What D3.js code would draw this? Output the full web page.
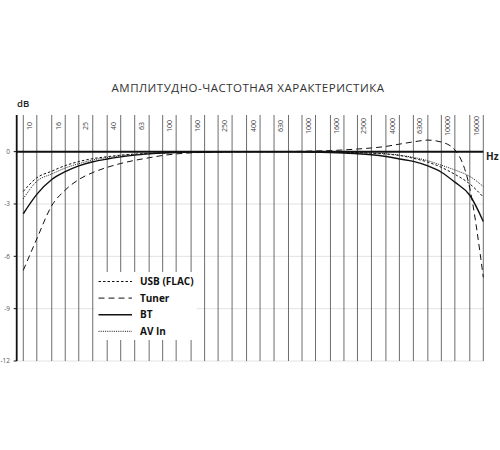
<!DOCTYPE html>
<html>
    <head>
        <meta charset="utf-8">
        <title>АЧХ</title>
        <style>
            body { margin: 0; background: #fff; }
            text { font-family: "Open Sans", sans-serif; }
        </style>
    </head>
    <body>
        <script src="https://cdnjs.cloudflare.com/ajax/libs/d3/7.8.5/d3.min.js" charset="utf-8"></script>
        <script>

        // 1/3-octave frequencies (Hz), one vertical grid line each
        var freqs = [10, 12.5, 16, 20, 25, 31.5, 40, 50, 63, 80, 100, 125, 160, 200, 250, 315, 400, 500,
                     630, 800, 1000, 1250, 1600, 2000, 2500, 3150, 4000, 5000, 6300, 8000, 10000, 12500, 16000, 20000];
        var labelFreqs = [10, 16, 25, 40, 63, 100, 160, 250, 400, 630, 1000, 1600, 2500, 4000, 6300, 10000, 16000];
        var dbTicks = [0, -3, -6, -9, -12];

        // levels in dB
        var usb = [-2.28, -1.5, -1.12, -0.8, -0.57, -0.4, -0.29, -0.2, -0.14, -0.1, -0.07, -0.05, -0.03, -0.02, -0.01, 0, 0, 0,
                   0, 0, 0, -0.01, -0.02, -0.04, -0.06, -0.09, -0.14, -0.22, -0.38, -0.6, -0.9, -1.3, -1.85, -2.6];
        var tuner = [-6.8, -5.0, -3.1, -2.2, -1.6, -1.2, -0.9, -0.68, -0.5, -0.35, -0.22, -0.13, -0.07, -0.04, -0.02, -0.01, 0, 0,
                     0, 0.01, 0.02, 0.04, 0.06, 0.1, 0.15, 0.21, 0.3, 0.43, 0.56, 0.66, 0.55, 0.1, -2.1, -7.2];
        var bt = [-3.56, -2.45, -1.6, -1.15, -0.82, -0.58, -0.42, -0.3, -0.2, -0.13, -0.08, -0.05, -0.03, -0.02, -0.01, 0, 0, 0,
                  0, 0, -0.01, -0.03, -0.05, -0.08, -0.12, -0.18, -0.28, -0.42, -0.56, -0.82, -1.18, -1.75, -2.5, -4.0];
        var avIn = [-2.7, -1.7, -1.28, -0.94, -0.69, -0.48, -0.34, -0.24, -0.17, -0.12, -0.08, -0.05, -0.03, -0.02, -0.01, 0, 0, 0,
                    0, 0, 0, -0.01, -0.02, -0.03, -0.05, -0.08, -0.12, -0.2, -0.33, -0.52, -0.78, -1.05, -1.42, -2.0];

        var seriesNames = ["USB (FLAC)", "Tuner", "BT", "AV In"];
        var seriesValues = [usb, tuner, bt, avIn];
        var seriesDash = ["2.5,2", "6,4", null, "1,1.2"];
        var seriesWidth = [1, 1, 1.4, 1];

        var w = 500;
        var h = 450;

        var svg = d3.select("body")
                    .append("svg")
                    .attr("width", w)
                    .attr("height", h);

        var xScale = d3.scaleLog()
                       .domain([10, 20000])
                       .range([23.3, 483.3]);

        var yScale = d3.scaleLinear()
                       .domain([-12, 2.1])
                       .range([361, 115]);

        var axisX = 16.7;

        // title
        svg.append("text")
           .attr("x", 248)
           .attr("y", 91.5)
           .attr("text-anchor", "middle")
           .attr("font-size", "11.5px")
           .attr("letter-spacing", "0.5px")
           .attr("fill", "#333")
           .text("АМПЛИТУДНО-ЧАСТОТНАЯ ХАРАКТЕРИСТИКА");

        // horizontal grid (faint)
        svg.append("g")
           .selectAll("line")
           .data(dbTicks.filter(function(d) { return d !== 0; }))
           .enter()
           .append("line")
           .attr("x1", axisX)
           .attr("x2", xScale(20000))
           .attr("y1", function(d) { return yScale(d); })
           .attr("y2", function(d) { return yScale(d); })
           .attr("stroke", "#e2e2e2")
           .attr("stroke-width", 1);

        // vertical grid
        svg.append("g")
           .selectAll("line")
           .data(freqs)
           .enter()
           .append("line")
           .attr("x1", function(d) { return xScale(d); })
           .attr("x2", function(d) { return xScale(d); })
           .attr("y1", yScale(2.1))
           .attr("y2", yScale(-12))
           .attr("stroke", "#5c5c5c")
           .attr("stroke-width", 0.9);

        // frequency labels, rotated, inside each band
        svg.append("g")
           .selectAll("text")
           .data(labelFreqs)
           .enter()
           .append("text")
           .attr("transform", function(d) {
               return "translate(" + (xScale(d) + 6.5) + ",126) rotate(-90)";
           })
           .attr("text-anchor", "middle")
           .attr("dy", "0.35em")
           .attr("font-size", "7px")
           .attr("fill", "#444")
           .text(function(d) { return d; });

        // y tick labels
        svg.append("g")
           .selectAll("text")
           .data(dbTicks)
           .enter()
           .append("text")
           .attr("x", 10)
           .attr("y", function(d) { return yScale(d); })
           .attr("dy", "0.35em")
           .attr("text-anchor", "end")
           .attr("font-size", "6.5px")
           .attr("fill", "#555")
           .text(function(d) { return d; });

        // y axis + small ticks
        svg.append("line")
           .attr("x1", axisX)
           .attr("x2", axisX)
           .attr("y1", yScale(2.1))
           .attr("y2", yScale(-12))
           .attr("stroke", "#111")
           .attr("stroke-width", 1.8);

        svg.append("g")
           .selectAll("line")
           .data(dbTicks)
           .enter()
           .append("line")
           .attr("x1", axisX - 3)
           .attr("x2", axisX)
           .attr("y1", function(d) { return yScale(d); })
           .attr("y2", function(d) { return yScale(d); })
           .attr("stroke", "#111")
           .attr("stroke-width", 1);

        // 0 dB line
        svg.append("line")
           .attr("x1", axisX)
           .attr("x2", xScale(20000))
           .attr("y1", yScale(0))
           .attr("y2", yScale(0))
           .attr("stroke", "#111")
           .attr("stroke-width", 2);

        svg.append("text")
           .attr("x", 17)
           .attr("y", 106.5)
           .attr("font-size", "9.5px")
           .attr("font-weight", 600)
           .attr("fill", "#222")
           .text("dB");

        svg.append("text")
           .attr("x", 486)
           .attr("y", 159.5)
           .attr("font-size", "10px")
           .attr("font-weight", 700)
           .attr("fill", "#222")
           .text("Hz");

        // curves
        var line = d3.line()
                     .x(function(d, i) { return xScale(freqs[i]); })
                     .y(function(d) { return yScale(d); })
                     .curve(d3.curveMonotoneX);

        svg.append("g")
           .selectAll("path")
           .data(seriesValues)
           .enter()
           .append("path")
           .attr("d", function(d) { return line(d); })
           .attr("fill", "none")
           .attr("stroke", "#111")
           .attr("stroke-width", function(d, i) { return seriesWidth[i]; })
           .attr("stroke-dasharray", function(d, i) { return seriesDash[i]; });

        // legend, on a white box over the grid
        var legend = svg.append("g");

        legend.append("rect")
              .attr("x", 94.5)
              .attr("y", 272)
              .attr("width", 102)
              .attr("height", 68)
              .attr("fill", "#fff");

        var rows = legend.selectAll("g")
                         .data(seriesNames)
                         .enter()
                         .append("g")
                         .attr("transform", function(d, i) { return "translate(0," + (281.5 + i * 16.6) + ")"; });

        rows.append("line")
            .attr("x1", 98.5)
            .attr("x2", 132)
            .attr("y1", 0)
            .attr("y2", 0)
            .attr("stroke", "#111")
            .attr("stroke-width", function(d, i) { return seriesWidth[i]; })
            .attr("stroke-dasharray", function(d, i) { return seriesDash[i]; });

        rows.append("text")
            .attr("x", 140)
            .attr("y", 0)
            .attr("dy", "0.35em")
            .attr("font-size", "10px")
            .attr("font-weight", 700)
            .attr("fill", "#111")
            .text(function(d) { return d; });

        </script>
    </body>
</html>
